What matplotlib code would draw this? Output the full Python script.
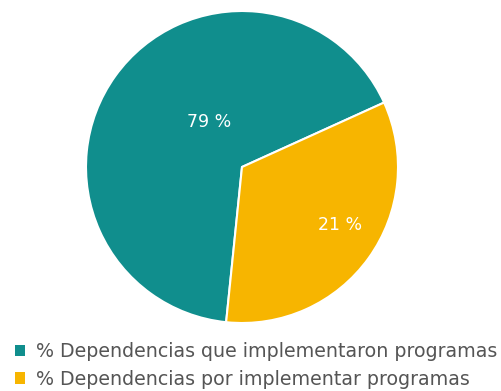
import matplotlib.pyplot as plt
from matplotlib.patches import Patch

# slice shares as drawn (the printed labels come from the source)
shares = [66.6, 33.4]
pct_labels = ['79 %', '21 %']
legend_labels = ['% Dependencias que implementaron programas',
                 '% Dependencias por implementar programas']
colors = ['#108e8d', '#f7b500']

plt.rcParams['font.family'] = ['DejaVu Sans']

fig = plt.figure(figsize=(5.01, 3.91), dpi=100)
W, H = 501, 391
cx, cy, r = 242, 167, 156
ax = fig.add_axes([(cx - r) / W, (H - cy - r) / H, 2 * r / W, 2 * r / H])

wedges, _ = ax.pie(shares, colors=colors, startangle=24.4, counterclock=True,
                   wedgeprops=dict(edgecolor='white', linewidth=1.5))
ax.set_xlim(-1, 1)
ax.set_ylim(-1, 1)

# percent labels
ax.text(-0.21, 0.29, pct_labels[0], color='white', fontsize=12.5,
        ha='center', va='center')
ax.text(0.63, -0.37, pct_labels[1], color='white', fontsize=12.5,
        ha='center', va='center')

handles = [Patch(facecolor=c, edgecolor='none') for c in colors]
fig.legend(handles, legend_labels, loc='upper left',
           bbox_to_anchor=(15 / W, 1 - 342 / H), frameon=False,
           fontsize=13.7, labelcolor='#555555', handlelength=0.55,
           handleheight=0.55, handletextpad=0.55, labelspacing=0.45,
           borderaxespad=0, borderpad=0)

fig.savefig('out.png', dpi=100)
